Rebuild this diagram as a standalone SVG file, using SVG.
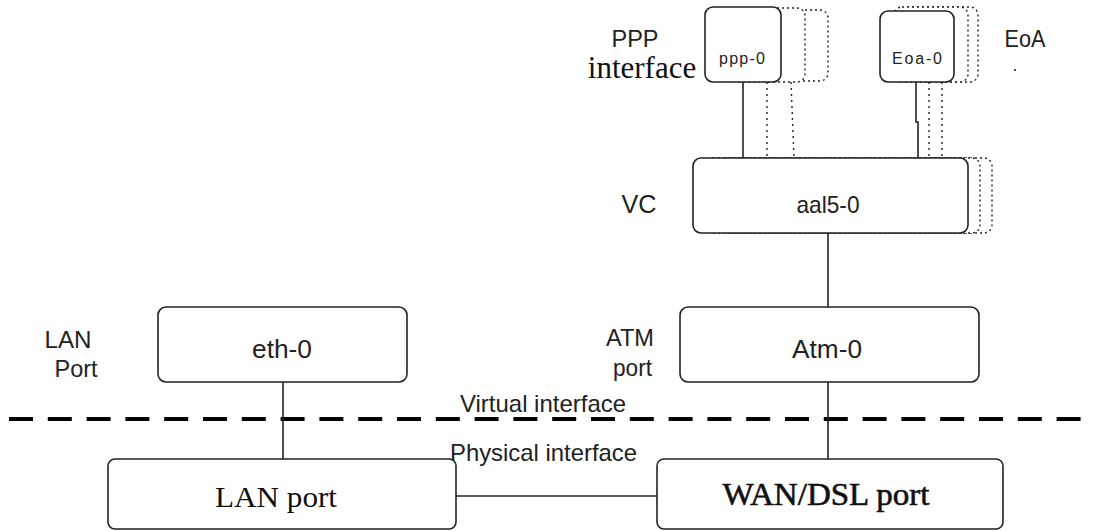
<svg xmlns="http://www.w3.org/2000/svg" width="1094" height="531" viewBox="0 0 1094 531">
<style>
.box{fill:#fff;stroke:#222;stroke-width:1.6}
.ghost{fill:#fff;stroke:#222;stroke-width:1.4;stroke-dasharray:2 3}
.wire{stroke:#222;stroke-width:1.6;fill:none}
.dwire{stroke:#222;stroke-width:1.4;fill:none;stroke-dasharray:2 4}
.sans{font-family:"Liberation Sans",Arial,sans-serif;fill:#222}
.serif{font-family:"Liberation Serif","Times New Roman",serif;fill:#111}
.mid{text-anchor:middle}
</style>
<rect width="1094" height="531" fill="#fff"/>

<g id="labels">
<text class="sans mid" x="635" y="47" font-size="24" textLength="47" lengthAdjust="spacingAndGlyphs">PPP</text>
<text class="serif mid" x="642" y="78" font-size="31">interface</text>
<text class="sans mid" x="1025" y="47" font-size="23" textLength="41" lengthAdjust="spacingAndGlyphs">EoA</text>
<rect x="1014" y="69" width="2" height="2" fill="#555"/>
<text class="sans mid" x="639" y="213" font-size="25" textLength="35" lengthAdjust="spacingAndGlyphs">VC</text>
<text class="sans mid" x="68" y="348" font-size="24" textLength="47" lengthAdjust="spacingAndGlyphs">LAN</text>
<text class="sans mid" x="76" y="377" font-size="24" textLength="43" lengthAdjust="spacingAndGlyphs">Port</text>
<text class="sans" x="654" y="346" font-size="24" text-anchor="end" textLength="48" lengthAdjust="spacingAndGlyphs">ATM</text>
<text class="sans" x="652" y="376" font-size="24" text-anchor="end" textLength="39" lengthAdjust="spacingAndGlyphs">port</text>
<text class="sans" x="460" y="412" font-size="24" textLength="166" lengthAdjust="spacingAndGlyphs">Virtual interface</text>
<text class="sans" x="450" y="461" font-size="24" textLength="187" lengthAdjust="spacingAndGlyphs">Physical interface</text>
</g>

<g id="connectors">
<line x1="9" y1="419" x2="1094" y2="419" stroke="#000" stroke-width="4" stroke-dasharray="24 14.8"/>
<line class="wire" x1="743" y1="82" x2="743" y2="158"/>
<line class="dwire" x1="767" y1="82" x2="767" y2="158"/>
<line class="dwire" x1="791" y1="82" x2="794" y2="158"/>
<polyline class="wire" points="916,82 916,122 918,122 918,158"/>
<line class="dwire" x1="929" y1="82" x2="929" y2="158"/>
<line class="dwire" x1="942" y1="82" x2="942" y2="158"/>
<line class="wire" x1="828" y1="233" x2="828" y2="307"/>
<line class="wire" x1="828" y1="382" x2="828" y2="459"/>
<line class="wire" x1="283" y1="382" x2="283" y2="459"/>
<line class="wire" x1="456" y1="496" x2="657" y2="496"/>
</g>

<g id="node-ppp-0">
<rect class="ghost" x="752" y="10" width="76" height="71" rx="8"/>
<rect class="ghost" x="729" y="8" width="76" height="74" rx="8"/>
<rect class="box" x="705" y="7" width="76" height="75" rx="8"/>
<text class="sans mid" x="742" y="64" font-size="16" textLength="46" lengthAdjust="spacing">ppp-0</text>
</g>

<g id="node-eoa-0">
<rect class="ghost" x="904" y="7" width="74" height="75" rx="8"/>
<rect class="ghost" x="894" y="7" width="74" height="75" rx="8"/>
<rect class="box" x="880" y="11" width="74" height="71" rx="8"/>
<text class="sans mid" x="917" y="64" font-size="16" textLength="50" lengthAdjust="spacing">Eoa-0</text>
</g>

<g id="node-aal5-0">
<rect class="ghost" x="717" y="158" width="275" height="75" rx="8"/>
<rect class="ghost" x="705" y="158" width="275" height="75" rx="8"/>
<rect class="box" x="693" y="158" width="275" height="75" rx="8"/>
<text class="sans mid" x="828" y="213" font-size="24" textLength="63" lengthAdjust="spacingAndGlyphs">aal5-0</text>
</g>

<g id="node-eth-0">
<rect class="box" x="158" y="307" width="249" height="75" rx="8"/>
<text class="sans mid" x="282" y="358" font-size="25" textLength="60" lengthAdjust="spacingAndGlyphs">eth-0</text>
</g>

<g id="node-atm-0">
<rect class="box" x="680" y="307" width="299" height="75" rx="8"/>
<text class="sans mid" x="827" y="358" font-size="25" textLength="70" lengthAdjust="spacingAndGlyphs">Atm-0</text>
</g>

<g id="node-lan-port">
<rect class="box" x="108" y="459" width="348" height="70" rx="7"/>
<text class="serif mid" x="276" y="507" font-size="30" textLength="122" lengthAdjust="spacingAndGlyphs">LAN port</text>
</g>

<g id="node-wan-port">
<rect class="box" x="657" y="459" width="346" height="70" rx="7"/>
<text class="serif mid" x="826" y="505" font-size="32" stroke="#111" stroke-width="0.6" textLength="207" lengthAdjust="spacingAndGlyphs">WAN/DSL port</text>
</g>
</svg>
